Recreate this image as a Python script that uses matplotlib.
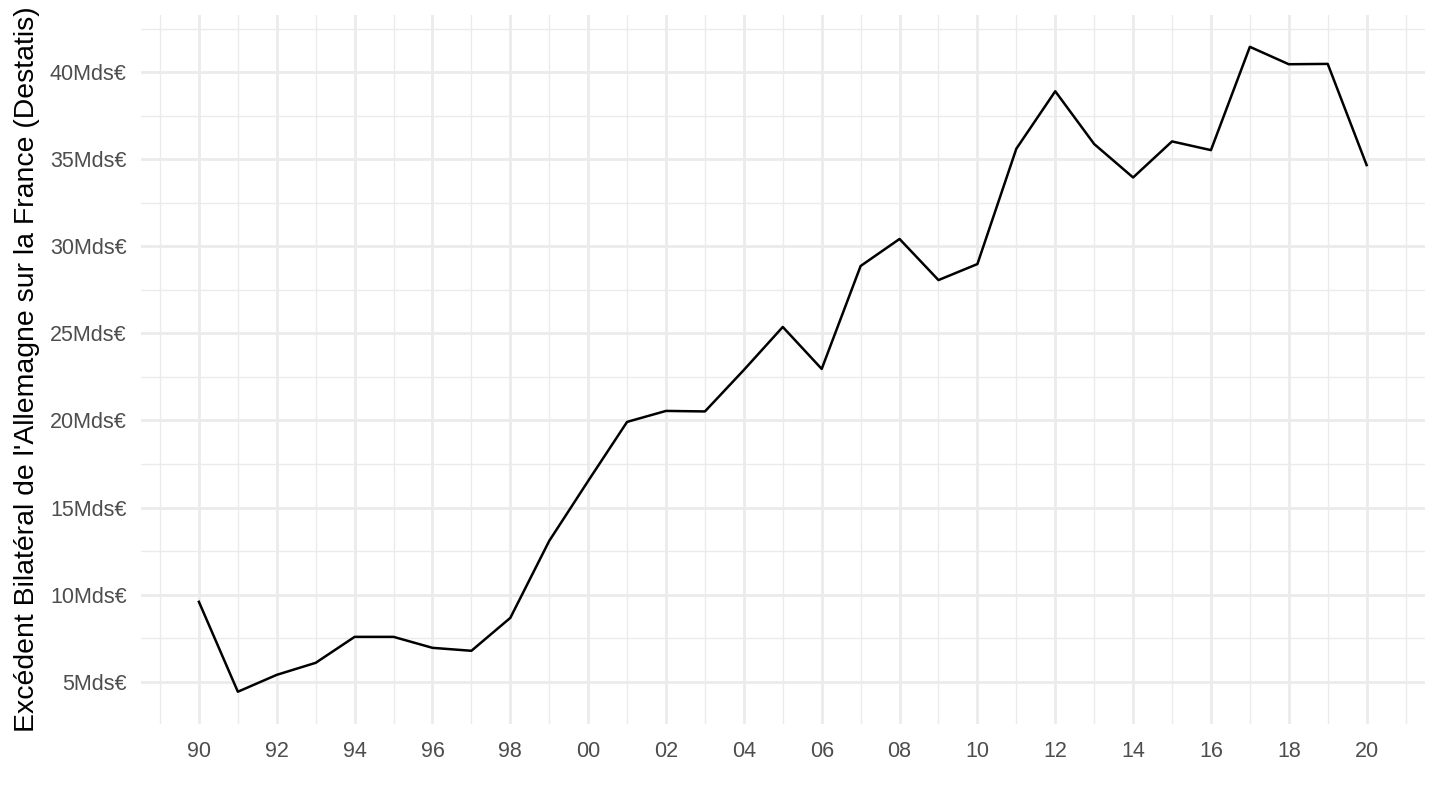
import matplotlib
matplotlib.use("Agg")
import matplotlib.pyplot as plt
from matplotlib.ticker import MultipleLocator, FixedLocator, FixedFormatter

plt.rcParams["font.family"] = ["Liberation Sans", "DejaVu Sans"]

years = list(range(1990, 2021))
surplus = [9.59, 4.43, 5.40, 6.09, 7.58, 7.58, 6.95, 6.78, 8.67, 13.09,
           16.53, 19.92, 20.55, 20.52, 22.90, 25.37, 22.96, 28.87, 30.42, 28.06,
           28.98, 35.60, 38.90, 35.87, 33.95, 36.02, 35.52, 41.45, 40.45, 40.47,
           34.66]
y_major = [5, 10, 15, 20, 25, 30, 35, 40]
x_major = list(range(1990, 2021, 2))
x_labels = [f"{y % 100:02d}" for y in x_major]
ylabel = "Excédent Bilatéral de l'Allemagne sur la France (Destatis)"

fig = plt.figure(figsize=(14.4, 8.1), dpi=100)
ax = fig.add_axes([0.0976, 0.1062, 0.892, 0.8758])

ax.plot(years, surplus, color="black", lw=1.8, zorder=3)

span = years[-1] - years[0]
ax.set_xlim(years[0] - 0.05 * span, years[-1] + 0.05 * span)
ylo, yhi = min(surplus), max(surplus)
ax.set_ylim(ylo - 0.05 * (yhi - ylo), yhi + 0.05 * (yhi - ylo))

ax.xaxis.set_major_locator(FixedLocator(x_major))
ax.xaxis.set_major_formatter(FixedFormatter(x_labels))
ax.xaxis.set_minor_locator(FixedLocator(list(range(1989, 2022, 2))))
ax.yaxis.set_major_locator(FixedLocator(y_major))
ax.yaxis.set_major_formatter(FixedFormatter([f"{v}Mds€" for v in y_major]))
ax.yaxis.set_minor_locator(MultipleLocator(2.5))

ax.grid(which="major", color="#EBEBEB", lw=2.0)
ax.grid(which="minor", color="#EBEBEB", lw=1.0)
ax.set_axisbelow(True)
for s in ax.spines.values():
    s.set_visible(False)
ax.tick_params(which="both", length=0)
ax.tick_params(axis="x", labelsize=15.5, labelcolor="#4D4D4D", pad=12)
ax.tick_params(axis="y", labelsize=15.5, labelcolor="#4D4D4D", pad=10)

ax.set_ylabel(ylabel, fontsize=20.4, color="black", labelpad=7)

fig.savefig("out.png", dpi=100)
